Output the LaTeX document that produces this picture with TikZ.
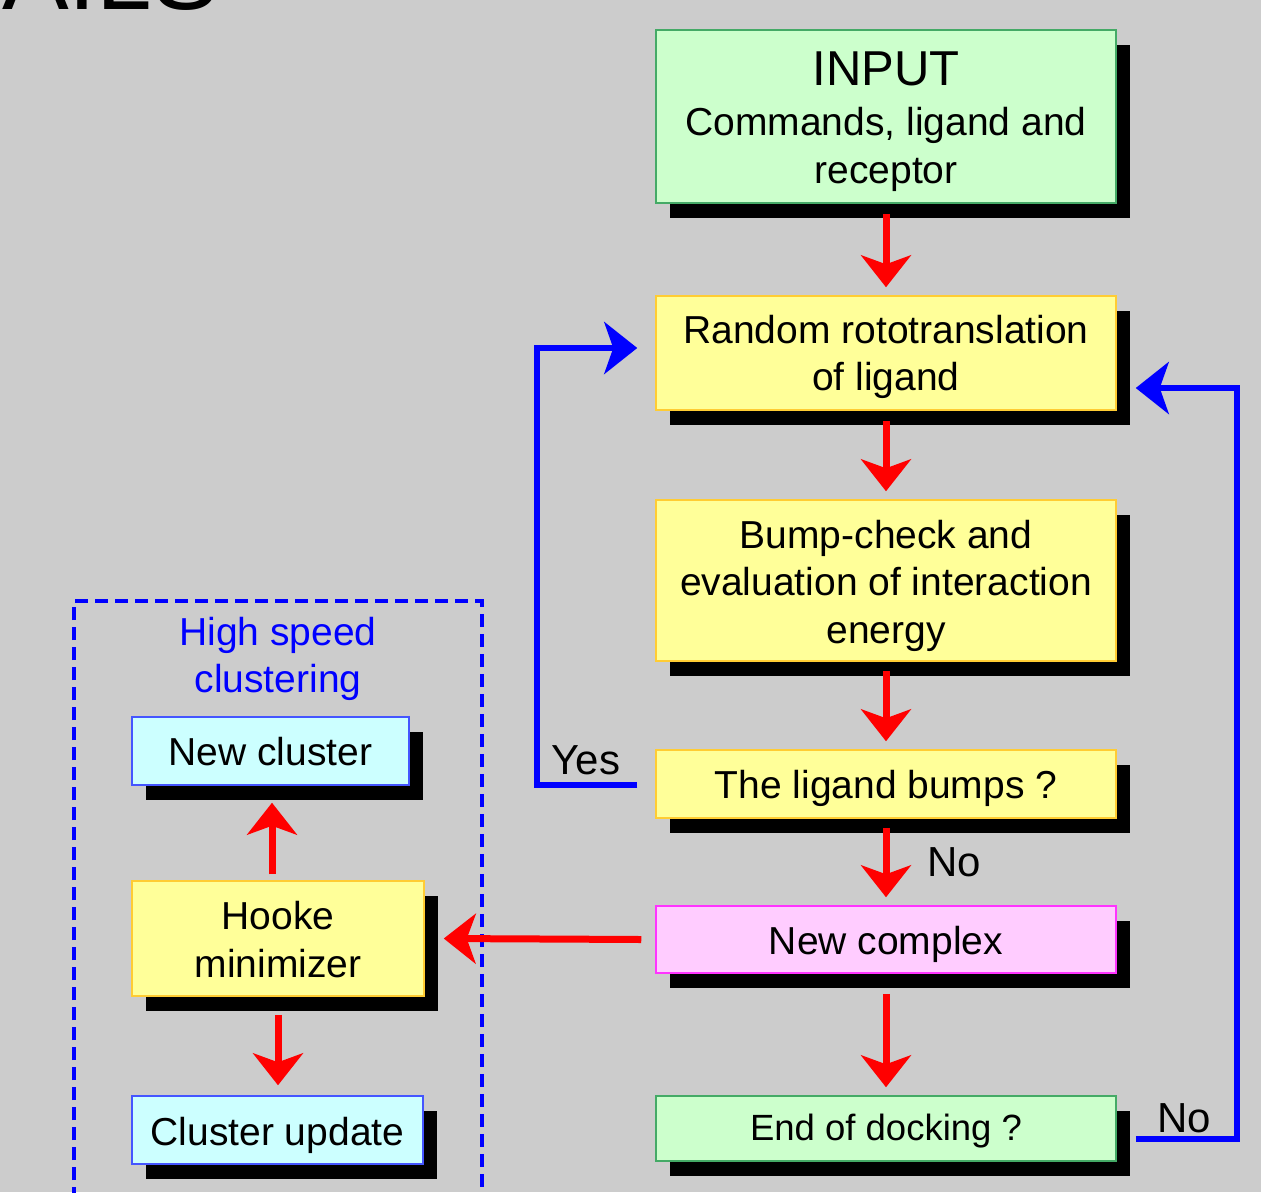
\documentclass[tikz,border=0pt]{standalone}
\usepackage{fontspec}
\setmainfont{Liberation Sans}
\usetikzlibrary{arrows.meta,shadows,calc}
\definecolor{bg}{HTML}{CCCCCC}
\definecolor{boxgreen}{HTML}{CCFFCC}
\definecolor{edgegreen}{HTML}{44AA66}
\definecolor{boxyellow}{HTML}{FFFF99}
\definecolor{edgeyellow}{HTML}{FFCC33}
\definecolor{boxpink}{HTML}{FFCCFF}
\definecolor{edgepink}{HTML}{FF33FF}
\definecolor{boxcyan}{HTML}{CCFFFF}
\definecolor{edgecyan}{HTML}{4455FF}
\definecolor{flowblue}{HTML}{0000FF}
\definecolor{flowred}{HTML}{FF0000}
\begin{document}
\begin{tikzpicture}[x=1pt,y=-1pt,
  shadowed/.style={drop shadow={shadow xshift=14pt,shadow yshift=-15pt,fill=black,opacity=1}},
  flowbox/.style={shadowed, rectangle, inner sep=0pt, line width=1.5pt},
  greenbox/.style={flowbox, fill=boxgreen, draw=edgegreen},
  yellowbox/.style={flowbox, fill=boxyellow, draw=edgeyellow},
  pinkbox/.style={flowbox, fill=boxpink, draw=edgepink},
  cyanbox/.style={flowbox, fill=boxcyan, draw=edgecyan},
  boxtext/.style={inner sep=0pt, align=center, font=\fontsize{39}{47.5}\selectfont},
  lbl/.style={inner sep=0pt, font=\fontsize{42}{47}\selectfont},
  redarrow/.style={-{Stealth[length=32pt,width=50pt,inset=9pt]}, draw=flowred, line width=7pt},
  bluearrow/.style={-{Stealth[length=33pt,width=52pt,inset=9pt]}, draw=flowblue, line width=6pt},
]
\fill[bg] (0,0) rectangle (1261,1192);
\useasboundingbox (0,0) rectangle (1261,1192);
\clip (0,0) rectangle (1261,1192);

% cut-off title
\node[anchor=base west, inner sep=0pt, font=\fontsize{100}{100}\selectfont] (title) at (2,9) {AILS};

% dashed frame
\draw[flowblue, line width=3.5pt, dash pattern=on 13pt off 7pt] (74,1200) -- (74,601) -- (482,601) -- (482,1200);
\node[boxtext, text=flowblue] (hsc) at (278,659) {High speed\\clustering};

% right column
\node[greenbox, minimum width=460pt, minimum height=173pt] (input) at (886,116.5) {};
\node[boxtext] (inputtxt) at ($(input.center)+(0,5)$)
  {{\fontsize{49}{50}\selectfont INPUT}\\[3pt]Commands, ligand and\\receptor};
\node[yellowbox, minimum width=460pt, minimum height=114pt] (rand) at (886,353) {};
\node[boxtext] (randtxt) at ($(rand.center)+(0,4)$) {Random rototranslation\\of ligand};
\node[yellowbox, minimum width=460pt, minimum height=161pt] (bump) at (886,580.5) {};
\node[boxtext] (bumptxt) at ($(bump.center)+(0,5)$) {Bump-check and\\evaluation of interaction\\energy};
\node[yellowbox, minimum width=460pt, minimum height=68pt] (bumps) at (886,784) {};
\node[boxtext] (bumpstxt) at ($(bumps.center)+(0,4)$) {The ligand bumps ?};
\node[pinkbox, minimum width=460pt, minimum height=67pt] (nc) at (886,939.5) {};
\node[boxtext] (nctxt) at ($(nc.center)+(0,5)$) {New complex};
\node[greenbox, minimum width=460pt, minimum height=65pt] (end) at (886,1128.5) {};
\node[boxtext, font=\fontsize{36.5}{44}\selectfont] (endtxt) at ($(end.center)+(0,3)$) {End of docking ?};

% left column
\node[cyanbox, minimum width=277pt, minimum height=68pt] (newcl) at (270.5,751) {};
\node[boxtext] (newcltxt) at ($(newcl.center)+(0,1)$) {New cluster};
\node[yellowbox, minimum width=292pt, minimum height=115pt] (hooke) at (278,938.5) {};
\node[boxtext] (hooketxt) at ($(hooke.center)+(0,1)$) {Hooke\\minimizer};
\node[cyanbox, minimum width=291pt, minimum height=68pt] (clup) at (277.5,1130) {};
\node[boxtext] (cluptxt) at ($(clup.center)+(0,5)$) {Cluster update};

% red arrows
\draw[redarrow] ($(input.south)+(0,10)$) -- ($(rand.north)+(0,-8)$);
\draw[redarrow] ($(rand.south)+(0,10)$) -- ($(bump.north)+(0,-8)$);
\draw[redarrow] ($(bump.south)+(0,9)$) -- ($(bumps.north)+(0,-8)$);
\draw[redarrow] ($(bumps.south)+(0,9)$) -- ($(nc.north)+(0,-8)$);
\draw[redarrow] ($(nc.south)+(0,20)$) -- ($(end.north)+(0,-8)$);
\draw[redarrow] ($(nc.west)+(-14,0)$) -- ($(hooke.east)+(19,0)$);
\draw[redarrow] ($(hooke.north)+(-6,-6)$) -- ($(newcl.south)+(1.5,17)$);
\draw[redarrow] ($(hooke.south)+(0,18)$) -- ($(clup.north)+(0.5,-10)$);

% blue loops
\coordinate (yescorner) at (537,348);
\coordinate (nocorner) at (1237,388);
\draw[bluearrow] ($(bumps.west)+(-18,1)$) -| (yescorner) -- ($(rand.west)+(-18,-5)$);
\draw[bluearrow] ($(end.east)+(19,10.5)$) -| (nocorner) -- ($(rand.east)+(19,35)$);

% labels
\node[lbl] (yes) at (586,760) {Yes};
\node[lbl] (no1) at (954,862) {No};
\node[lbl] (no2) at (1184,1118) {No};
\end{tikzpicture}
\end{document}
